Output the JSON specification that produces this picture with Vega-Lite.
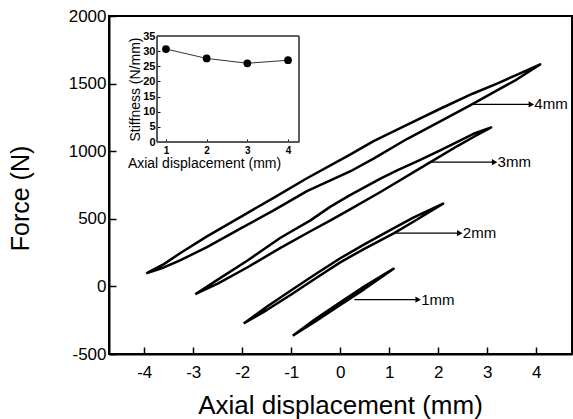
{
  "$schema": "https://vega.github.io/schema/vega-lite/v6.json",
  "width": 463,
  "height": 338,
  "autosize": {"type": "none"},
  "padding": {"left": 109, "top": 16, "right": 1, "bottom": 65},
  "background": "white",
  "config": {
    "font": "Liberation Sans",
    "view": {"stroke": "black", "strokeWidth": 2},
    "axis": {"grid": false, "domainColor": "black", "tickColor": "black", "labelColor": "black", "titleColor": "black", "titleFontWeight": "normal", "labelFont": "Liberation Sans", "titleFont": "Liberation Sans"}
  },
  "datasets": {
    "loops": [
      {"loop": "4mm", "ord": 0, "x": -3.96, "y": 96},
      {"loop": "4mm", "ord": 1, "x": -3.6, "y": 140},
      {"loop": "4mm", "ord": 2, "x": -3.27, "y": 192},
      {"loop": "4mm", "ord": 3, "x": -2.72, "y": 291},
      {"loop": "4mm", "ord": 4, "x": -2.04, "y": 427},
      {"loop": "4mm", "ord": 5, "x": -1.36, "y": 562},
      {"loop": "4mm", "ord": 6, "x": -0.68, "y": 705},
      {"loop": "4mm", "ord": 7, "x": 0.2, "y": 850},
      {"loop": "4mm", "ord": 8, "x": 0.68, "y": 945},
      {"loop": "4mm", "ord": 9, "x": 1.36, "y": 1090},
      {"loop": "4mm", "ord": 10, "x": 2.04, "y": 1220},
      {"loop": "4mm", "ord": 11, "x": 2.65, "y": 1339},
      {"loop": "4mm", "ord": 12, "x": 3.2, "y": 1450},
      {"loop": "4mm", "ord": 13, "x": 3.6, "y": 1530},
      {"loop": "4mm", "ord": 14, "x": 4.08, "y": 1642},
      {"loop": "4mm", "ord": 15, "x": 3.6, "y": 1565},
      {"loop": "4mm", "ord": 16, "x": 3.2, "y": 1500},
      {"loop": "4mm", "ord": 17, "x": 2.7, "y": 1425},
      {"loop": "4mm", "ord": 18, "x": 2.04, "y": 1314},
      {"loop": "4mm", "ord": 19, "x": 1.36, "y": 1195},
      {"loop": "4mm", "ord": 20, "x": 0.68, "y": 1075},
      {"loop": "4mm", "ord": 21, "x": 0.2, "y": 975},
      {"loop": "4mm", "ord": 22, "x": -0.68, "y": 800},
      {"loop": "4mm", "ord": 23, "x": -1.36, "y": 655},
      {"loop": "4mm", "ord": 24, "x": -2.04, "y": 513},
      {"loop": "4mm", "ord": 25, "x": -2.72, "y": 370},
      {"loop": "4mm", "ord": 26, "x": -3.27, "y": 245},
      {"loop": "4mm", "ord": 27, "x": -3.6, "y": 165},
      {"loop": "4mm", "ord": 28, "x": -3.96, "y": 96},
      {"loop": "3mm", "ord": 0, "x": -2.96, "y": -58},
      {"loop": "3mm", "ord": 1, "x": -2.5, "y": 20},
      {"loop": "3mm", "ord": 2, "x": -1.9, "y": 140},
      {"loop": "3mm", "ord": 3, "x": -1.22, "y": 285},
      {"loop": "3mm", "ord": 4, "x": -0.6, "y": 410},
      {"loop": "3mm", "ord": 5, "x": -0.2, "y": 488},
      {"loop": "3mm", "ord": 6, "x": 0.2, "y": 570},
      {"loop": "3mm", "ord": 7, "x": 0.82, "y": 698},
      {"loop": "3mm", "ord": 8, "x": 1.84, "y": 919},
      {"loop": "3mm", "ord": 9, "x": 2.4, "y": 1040},
      {"loop": "3mm", "ord": 10, "x": 2.72, "y": 1105},
      {"loop": "3mm", "ord": 11, "x": 3.08, "y": 1176},
      {"loop": "3mm", "ord": 12, "x": 2.72, "y": 1129},
      {"loop": "3mm", "ord": 13, "x": 2.04, "y": 1006},
      {"loop": "3mm", "ord": 14, "x": 1.6, "y": 930},
      {"loop": "3mm", "ord": 15, "x": 1.16, "y": 858},
      {"loop": "3mm", "ord": 16, "x": 0.82, "y": 797},
      {"loop": "3mm", "ord": 17, "x": 0.2, "y": 675},
      {"loop": "3mm", "ord": 18, "x": -0.2, "y": 590},
      {"loop": "3mm", "ord": 19, "x": -0.6, "y": 490},
      {"loop": "3mm", "ord": 20, "x": -1.22, "y": 360},
      {"loop": "3mm", "ord": 21, "x": -1.9, "y": 190},
      {"loop": "3mm", "ord": 22, "x": -2.5, "y": 50},
      {"loop": "3mm", "ord": 23, "x": -2.96, "y": -58},
      {"loop": "2mm", "ord": 0, "x": -1.97, "y": -274},
      {"loop": "2mm", "ord": 1, "x": -1.5, "y": -175},
      {"loop": "2mm", "ord": 2, "x": -1.0, "y": -60},
      {"loop": "2mm", "ord": 3, "x": -0.5, "y": 60},
      {"loop": "2mm", "ord": 4, "x": 0.0, "y": 178},
      {"loop": "2mm", "ord": 5, "x": 0.5, "y": 280},
      {"loop": "2mm", "ord": 6, "x": 1.1, "y": 394},
      {"loop": "2mm", "ord": 7, "x": 1.5, "y": 480},
      {"loop": "2mm", "ord": 8, "x": 2.1, "y": 612},
      {"loop": "2mm", "ord": 9, "x": 1.5, "y": 510},
      {"loop": "2mm", "ord": 10, "x": 1.0, "y": 412},
      {"loop": "2mm", "ord": 11, "x": 0.5, "y": 312},
      {"loop": "2mm", "ord": 12, "x": 0.0, "y": 208},
      {"loop": "2mm", "ord": 13, "x": -0.5, "y": 92},
      {"loop": "2mm", "ord": 14, "x": -1.0, "y": -28},
      {"loop": "2mm", "ord": 15, "x": -1.5, "y": -150},
      {"loop": "2mm", "ord": 16, "x": -1.97, "y": -274},
      {"loop": "1mm", "ord": 0, "x": -0.97, "y": -365},
      {"loop": "1mm", "ord": 1, "x": -0.5, "y": -258},
      {"loop": "1mm", "ord": 2, "x": 0.0, "y": -138},
      {"loop": "1mm", "ord": 3, "x": 0.5, "y": -18},
      {"loop": "1mm", "ord": 4, "x": 1.09, "y": 131},
      {"loop": "1mm", "ord": 5, "x": 0.5, "y": 2},
      {"loop": "1mm", "ord": 6, "x": 0.0, "y": -118},
      {"loop": "1mm", "ord": 7, "x": -0.5, "y": -240},
      {"loop": "1mm", "ord": 8, "x": -0.97, "y": -365}
    ],
    "arrows": [
      {"label": "4mm", "xs": 2.69, "xe": 3.9, "y": 1346},
      {"label": "3mm", "xs": 1.84, "xe": 3.15, "y": 919},
      {"label": "2mm", "xs": 1.12, "xe": 2.44, "y": 394},
      {"label": "1mm", "xs": 0.29, "xe": 1.59, "y": -98}
    ],
    "stiff": [
      {"d": 1, "s": 30.7},
      {"d": 2, "s": 27.6},
      {"d": 3, "s": 26.0},
      {"d": 4, "s": 27.0}
    ]
  },
  "layer": [
    {
      "layer": [
        {
          "data": {"name": "loops"},
          "mark": {"type": "line", "stroke": "black", "strokeWidth": 2.5, "strokeJoin": "round"},
          "encoding": {
            "x": {"field": "x", "type": "quantitative",
              "scale": {"domain": [-4.72, 4.73], "nice": false, "zero": false},
              "axis": {"values": [-4, -3, -2, -1, 0, 1, 2, 3, 4], "tickSize": -7, "tickWidth": 1.5, "domainWidth": 2,
                "labelFontSize": 17, "labelPadding": 17, "labelExpr": "'' + datum.value",
                "title": "Axial displacement (mm)", "titleFontSize": 26, "titleX": 231, "titleY": 59, "titleBaseline": "alphabetic"}},
            "y": {"field": "y", "type": "quantitative",
              "scale": {"domain": [-500, 2000], "nice": false, "zero": false},
              "axis": {"values": [-500, -250, 0, 250, 500, 750, 1000, 1250, 1500, 1750, 2000],
                "tickSize": {"condition": {"test": "datum.value % 500 === 0", "value": -7}, "value": -4},
                "tickWidth": 1.5, "domainWidth": 2,
                "labelFontSize": 17, "labelPadding": 10, "labelExpr": "datum.value % 500 === 0 ? '' + datum.value : ''",
                "title": "Force (N)", "titleFontSize": 25, "titleX": -76, "titleY": 182, "titleAngle": -90, "titleBaseline": "bottom"}},
            "order": {"field": "ord", "type": "quantitative"},
            "detail": {"field": "loop"}
          }
        },
        {
          "data": {"name": "arrows"},
          "mark": {"type": "rule", "stroke": "black", "strokeWidth": 1.3},
          "encoding": {
            "x": {"field": "xs", "type": "quantitative"},
            "x2": {"field": "xe"},
            "y": {"field": "y", "type": "quantitative"}
          }
        },
        {
          "data": {"name": "arrows"},
          "mark": {"type": "point", "shape": "triangle-right", "filled": true, "color": "black", "size": 40, "opacity": 1},
          "encoding": {
            "x": {"field": "xe", "type": "quantitative"},
            "y": {"field": "y", "type": "quantitative"}
          }
        },
        {
          "data": {"name": "arrows"},
          "mark": {"type": "text", "align": "left", "baseline": "middle", "fontSize": 15, "dx": 3, "color": "black", "font": "Liberation Sans"},
          "encoding": {
            "x": {"field": "xe", "type": "quantitative"},
            "y": {"field": "y", "type": "quantitative"},
            "text": {"field": "label"}
          }
        }
      ]
    },
    {
      "data": {"name": "stiff"},
      "layer": [
        {
          "mark": {"type": "line", "stroke": "#333", "strokeWidth": 1},
          "encoding": {
            "x": {"field": "d", "type": "quantitative",
              "scale": {"domain": [0.78, 4.27], "range": [48, 190], "nice": false, "zero": false},
              "axis": {"orient": "bottom", "offset": -212, "values": [1, 2, 3, 4], "tickSize": -3, "tickWidth": 1, "domainColor": "#555", "domainWidth": 1,
                "labelFontSize": 10, "labelFontWeight": "bold", "labelPadding": 6, "labelExpr": "'' + datum.value",
                "title": "Axial displacement (mm)", "titleFontSize": 14, "titleX": 95, "titleY": 25, "titleBaseline": "alphabetic"}},
            "y": {"field": "s", "type": "quantitative",
              "scale": {"domain": [0, 35], "range": [126, 20], "nice": false, "zero": false},
              "axis": {"orient": "left", "offset": -48, "values": [0, 5, 10, 15, 20, 25, 30, 35], "tickSize": -3, "tickWidth": 1, "domainColor": "#555", "domainWidth": 1,
                "labelFontSize": 11, "labelFontWeight": "bold", "labelPadding": 5, "labelExpr": "'' + datum.value",
                "title": "Stiffness (N/mm)", "titleFontSize": 14, "titleX": -15, "titleAngle": -90, "titleBaseline": "bottom"}}
          }
        },
        {
          "mark": {"type": "point", "filled": true, "color": "black", "size": 60, "opacity": 1},
          "encoding": {
            "x": {"field": "d", "type": "quantitative"},
            "y": {"field": "s", "type": "quantitative"}
          }
        },
        {
          "mark": {"type": "rect", "filled": false, "stroke": "#555", "strokeWidth": 1},
          "encoding": {
            "x": {"datum": 0.78, "type": "quantitative"},
            "x2": {"datum": 4.27},
            "y": {"datum": 0, "type": "quantitative"},
            "y2": {"datum": 35}
          }
        }
      ]
    }
  ],
  "resolve": {"scale": {"x": "independent", "y": "independent"}, "axis": {"x": "independent", "y": "independent"}}
}
